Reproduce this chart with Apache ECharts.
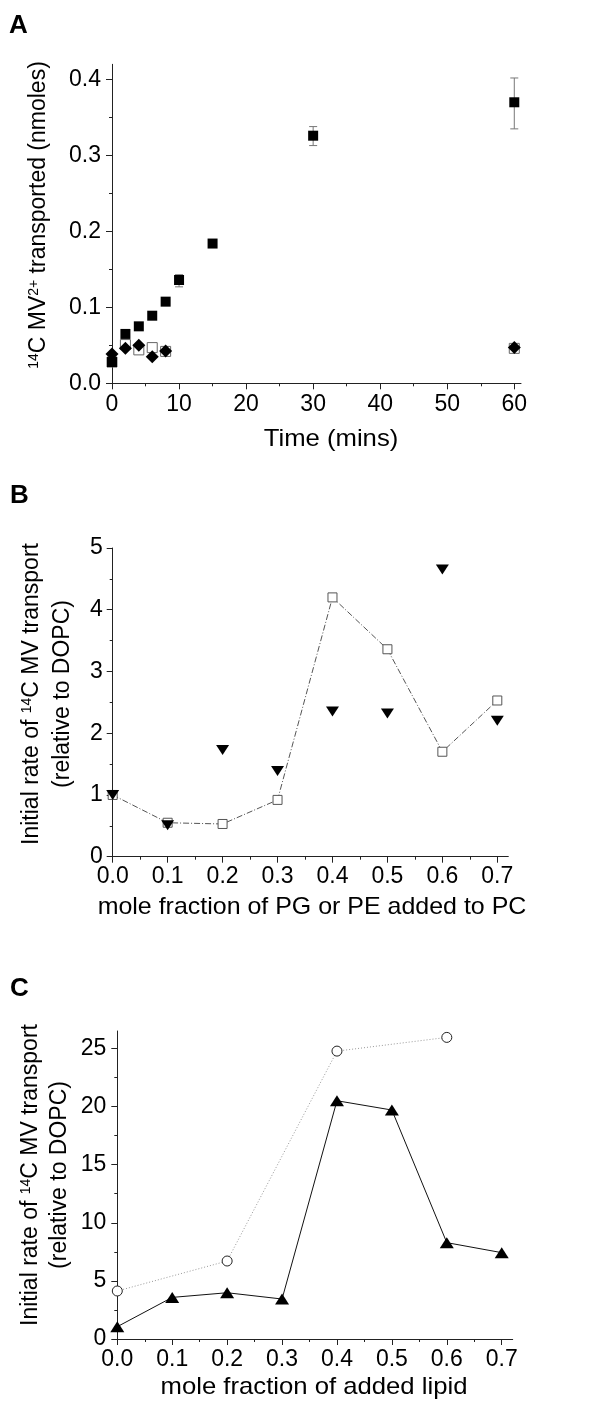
<!DOCTYPE html>
<html>
<head>
<meta charset="utf-8">
<script src="https://cdn.jsdelivr.net/npm/echarts@6/dist/echarts.min.js"></script>
<style>
html,body{margin:0;padding:0;background:#fff;}
#chart{width:600px;height:1405px;}
</style>
</head>
<body>
<div id="chart"></div>
<script>
// ---------- Panel A data ----------
const aFilledTime = [0, 2, 4, 6, 8, 10, 15, 30, 60];
const aFilled = [0.028, 0.065, 0.075, 0.089, 0.1075, 0.136, 0.184, 0.326, 0.370];
const aOpenTime = [0, 2, 4, 6, 8, 60];
const aOpen = [0.028, 0.051, 0.044, 0.047, 0.042, 0.046];
const aDiamondTime = [0, 2, 4, 6, 8, 60];
const aDiamond = [0.0385, 0.046, 0.050, 0.035, 0.0425, 0.047];
const aErrTime = [10, 30, 60];
const aErrLow = [0.127, 0.313, 0.335];
const aErrHigh = [0.143, 0.338, 0.402];
const aXTicks = [0, 10, 20, 30, 40, 50, 60];
const aXMinor = [5, 15, 25, 35, 45, 55];
const aYTicks = [0, 0.1, 0.2, 0.3, 0.4];
const aYMinor = [0.05, 0.15, 0.25, 0.35];

// ---------- Panel B data ----------
const bX = [0, 0.1, 0.2, 0.3, 0.4, 0.5, 0.6, 0.7];
const bSquares = [1.0, 0.55, 0.53, 0.92, 4.20, 3.36, 1.70, 2.53];
const bTriangles = [1.0, 0.51, 1.73, 1.39, 2.35, 2.32, 4.65, 2.20];
const bXTicks = [0, 0.1, 0.2, 0.3, 0.4, 0.5, 0.6, 0.7];
const bXMinor = [0.05, 0.15, 0.25, 0.35, 0.45, 0.55, 0.65];
const bYTicks = [0, 1, 2, 3, 4, 5];
const bYMinor = [0.5, 1.5, 2.5, 3.5, 4.5];

// ---------- Panel C data ----------
const cX = [0, 0.1, 0.2, 0.3, 0.4, 0.5, 0.6, 0.7];
const cTriangles = [1.06, 3.58, 3.98, 3.44, 20.5, 19.7, 8.29, 7.43];
const cCircleX = [0, 0.2, 0.4, 0.6];
const cCircles = [4.13, 6.71, 24.77, 25.95];
const cXTicks = [0, 0.1, 0.2, 0.3, 0.4, 0.5, 0.6, 0.7];
const cXMinor = [0.05, 0.15, 0.25, 0.35, 0.45, 0.55, 0.65];
const cYTicks = [0, 5, 10, 15, 20, 25];
const cYMinor = [2.5, 7.5, 12.5, 17.5, 22.5];

const FONT = '"Liberation Sans", Arial, sans-serif';
const AXC = '#222';

function pair(dim, gridIndex, min, max, major, minor, fmt, margin) {
  const pos = dim === 'x' ? 'bottom' : 'left';
  const base = {
    type: 'value', gridIndex: gridIndex, min: min, max: max, position: pos,
    splitLine: {show: false}
  };
  const main = Object.assign({}, base, {
    axisLine: {show: true, onZero: false, lineStyle: {color: AXC, width: 1}},
    axisTick: {show: true, inside: false, length: 6, customValues: major, lineStyle: {color: AXC, width: 1}},
    axisLabel: {show: true, customValues: major, formatter: fmt, margin: margin,
      fontFamily: FONT, fontSize: 23, color: '#000'}
  });
  const sub = Object.assign({}, base, {
    axisLine: {show: false, onZero: false},
    axisTick: {show: true, inside: false, length: 3, customValues: minor, lineStyle: {color: AXC, width: 1}},
    axisLabel: {show: false}
  });
  return [main, sub];
}

const f1 = v => v.toFixed(1);
const f0 = v => String(Math.round(v));

const xAxes = [].concat(
  pair('x', 0, 0, 61, aXTicks, aXMinor, f0, 10),
  pair('x', 1, 0, 0.72, bXTicks, bXMinor, f1, 8),
  pair('x', 2, 0, 0.72, cXTicks, cXMinor, f1, 9)
);
const yAxes = [].concat(
  pair('y', 0, 0, 0.42, aYTicks, aYMinor, f1, 11),
  pair('y', 1, 0, 5, bYTicks, bYMinor, f0, 10),
  pair('y', 2, 0, 26.5, cYTicks, cYMinor, f0, 11)
);

const zip = (xs, ys) => xs.map((x, i) => [x, ys[i]]);

function errRender(params, api) {
  const x = api.value(0);
  const p1 = api.coord([x, api.value(1)]);
  const p2 = api.coord([x, api.value(2)]);
  const w = 4;
  const st = {stroke: '#777', lineWidth: 1};
  return {
    type: 'group',
    children: [
      {type: 'line', shape: {x1: p1[0], y1: p1[1], x2: p2[0], y2: p2[1]}, style: st},
      {type: 'line', shape: {x1: p1[0] - w, y1: p1[1], x2: p1[0] + w, y2: p1[1]}, style: st},
      {type: 'line', shape: {x1: p2[0] - w, y1: p2[1], x2: p2[0] + w, y2: p2[1]}, style: st}
    ]
  };
}

function rot(text, x, y, align) {
  return {
    type: 'text', x: x, y: y, rotation: Math.PI / 2, silent: true,
    style: {
      text: text, fontFamily: FONT, fontSize: 23, fill: '#000',
      align: align, verticalAlign: 'middle',
      rich: {
        sup: {fontFamily: FONT, fontSize: 14, fill: '#000', verticalAlign: 'top'},
        n: {fontFamily: FONT, fontSize: 23, fill: '#000'}
      }
    }
  };
}
function horiz(text, x, y, size, weight, align, sx) {
  return {
    type: 'text', x: x, y: y, silent: true, scaleX: sx || 1,
    style: {text: text, fontFamily: FONT, fontSize: size, fontWeight: weight || 'normal',
      fill: '#000', align: align || 'center', verticalAlign: 'middle'}
  };
}

const option = {
  animation: false,
  backgroundColor: '#fff',
  grid: [
    {left: 112, top: 64.3, width: 409, height: 319, outerBoundsMode: 'none', containLabel: false},
    {left: 112.7, top: 548, width: 395.6, height: 308.7, outerBoundsMode: 'none', containLabel: false},
    {left: 117.3, top: 1031, width: 395.4, height: 308, outerBoundsMode: 'none', containLabel: false}
  ],
  xAxis: xAxes,
  yAxis: yAxes,
  graphic: [
    horiz('A', 9, 26, 26, 'bold', 'left'),
    horiz('B', 10, 496, 26, 'bold', 'left'),
    horiz('C', 10, 989, 26, 'bold', 'left'),
    rot('{sup|14}{n|C MV}{sup|2+}{n| transported (nmoles)}', 39, 215, 'center'),
    rot('{n|Initial rate of }{sup|14}{n|C MV transport}', 32, 694, 'center'),
    rot('(relative to DOPC)', 63, 694, 'center'),
    rot('{n|Initial rate of }{sup|14}{n|C MV transport}', 31, 1175, 'center'),
    rot('(relative to DOPC)', 60, 1175, 'center'),
    horiz('Time (mins)', 331, 439, 24, 'normal', 'center', 1.07),
    horiz('mole fraction of PG or PE added to PC', 312, 907, 24, 'normal', 'center', 1.04),
    horiz('mole fraction of added lipid', 314, 1387, 24, 'normal', 'center', 1.07)
  ],
  series: [
    // Panel A
    {type: 'custom', xAxisIndex: 0, yAxisIndex: 0, renderItem: errRender,
      encode: {x: 0, y: [1, 2]}, z: 1,
      data: aErrTime.map((t, i) => [t, aErrLow[i], aErrHigh[i]])},
    {type: 'scatter', xAxisIndex: 0, yAxisIndex: 0, symbol: 'rect', symbolSize: 10, z: 2,
      itemStyle: {color: '#fff', borderColor: '#666', borderWidth: 1, opacity: 1},
      data: zip(aOpenTime, aOpen)},
    {type: 'scatter', xAxisIndex: 0, yAxisIndex: 0, symbol: 'diamond', symbolSize: 13, z: 3,
      itemStyle: {color: '#000', opacity: 1}, data: zip(aDiamondTime, aDiamond)},
    {type: 'scatter', xAxisIndex: 0, yAxisIndex: 0, symbol: 'rect', symbolSize: 10, z: 4,
      itemStyle: {color: '#000', opacity: 1}, data: zip(aFilledTime, aFilled)},
    // Panel B
    {type: 'line', xAxisIndex: 2, yAxisIndex: 2, symbol: 'rect', symbolSize: 9, showSymbol: true, z: 2,
      lineStyle: {color: '#555', width: 1, type: [6, 2, 1, 2]},
      itemStyle: {color: '#fff', borderColor: '#555', borderWidth: 1, opacity: 1},
      data: zip(bX, bSquares)},
    {type: 'scatter', xAxisIndex: 2, yAxisIndex: 2, symbol: 'triangle', symbolRotate: 180,
      symbolSize: [13, 10], z: 3, itemStyle: {color: '#000', opacity: 1}, data: zip(bX, bTriangles)},
    // Panel C
    {type: 'line', xAxisIndex: 4, yAxisIndex: 4, symbol: 'circle', symbolSize: 10, showSymbol: true, z: 2,
      lineStyle: {color: '#999', width: 1, type: [1, 2]},
      itemStyle: {color: '#fff', borderColor: '#222', borderWidth: 1, opacity: 1},
      data: zip(cCircleX, cCircles)},
    {type: 'line', xAxisIndex: 4, yAxisIndex: 4, symbol: 'triangle', symbolSize: [14, 11], showSymbol: true, z: 3,
      lineStyle: {color: '#111', width: 1},
      itemStyle: {color: '#000', opacity: 1},
      data: zip(cX, cTriangles)}
  ]
};

const chart = echarts.init(document.getElementById('chart'), null, {renderer: 'canvas', width: 600, height: 1405});
chart.setOption(option);
</script>
</body>
</html>
